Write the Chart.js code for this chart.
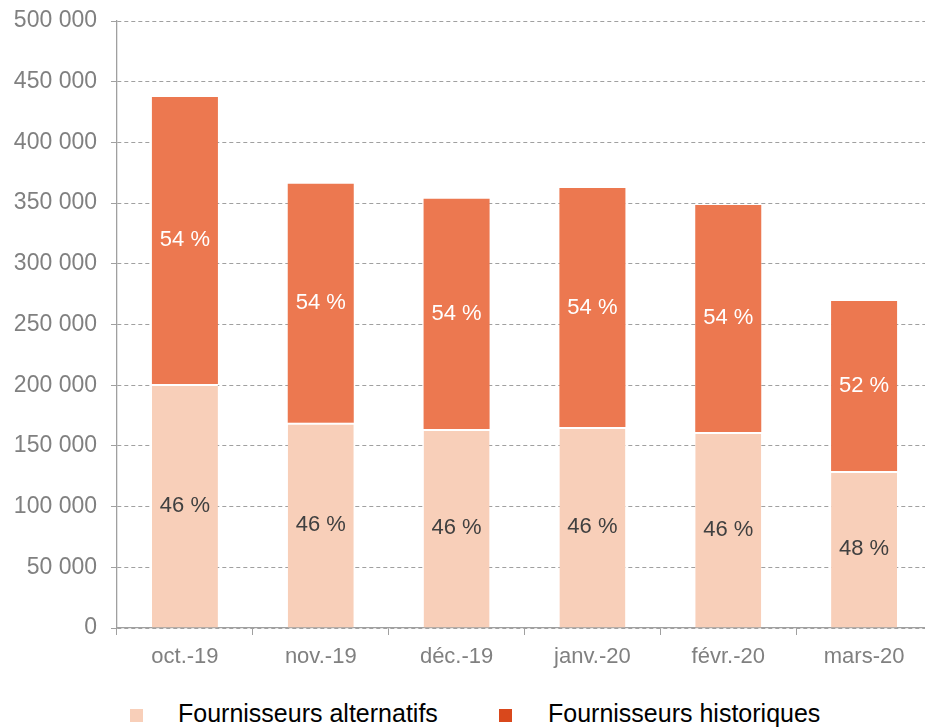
<!DOCTYPE html>
<html>
<head>
<meta charset="utf-8">
<script src="https://cdn.jsdelivr.net/npm/chart.js@4"></script>
<style>
    html, body { margin: 0; padding: 0; background: #fff; overflow: hidden; }
    #wrap { position: relative; width: 932px; height: 690px; }
    .legend { position: absolute; top: 698px; font-family: "Liberation Sans", Arial, sans-serif; font-size: 25px; color: #000; line-height: 30px; }
    .legend .box { position: absolute; width: 13px; height: 13px; top: 11px; }
    .legend .txt { position: absolute; white-space: nowrap; top: 0; }
</style>
</head>
<body>
<div id="wrap"><canvas id="chart"></canvas></div>
<div class="legend" id="legAlt" style="left:130px;"><span class="box" style="left:0;background:#F8CFB9;"></span><span class="txt" style="left:48px;">Fournisseurs alternatifs</span></div>
<div class="legend" id="legHist" style="left:499px;"><span class="box" style="left:0;background:#D9481C;"></span><span class="txt" style="left:49px;">Fournisseurs historiques</span></div>
<script>
// catégories (mois)
const months = ['oct.-19', 'nov.-19', 'déc.-19', 'janv.-20', 'févr.-20', 'mars-20'];

// valeurs
const alternatifs = [201000, 169000, 164000, 165500, 161500, 129300];
const historiques = [236500, 197000, 189500, 197000, 187000, 140000];

// pourcentages affichés dans les barres
const pctAlternatifs = [46, 46, 46, 46, 46, 48];
const pctHistoriques = [54, 54, 54, 54, 54, 52];

const FONT = '"Liberation Sans", Arial, sans-serif';

// étiquettes de pourcentage au centre de chaque segment
const pctLabels = {
    id: 'pctLabels',
    afterDatasetsDraw(chart) {
        const ctx = chart.ctx;
        const sets = [
            { pct: pctAlternatifs, color: '#404040' },
            { pct: pctHistoriques, color: '#ffffff' }
        ];
        ctx.save();
        ctx.font = '22px ' + FONT;
        ctx.textAlign = 'center';
        ctx.textBaseline = 'middle';
        sets.forEach((s, di) => {
            chart.getDatasetMeta(di).data.forEach((bar, i) => {
                const { x, y, base } = bar.getProps(['x', 'y', 'base'], true);
                ctx.fillStyle = s.color;
                ctx.fillText(s.pct[i] + ' %', x, (y + base) / 2);
            });
        });
        ctx.restore();
    }
};

const ctx = document.getElementById('chart').getContext('2d');
const chart = new Chart(ctx, {
    type: 'bar',
    data: {
        labels: months,
        datasets: [{
            label: 'Fournisseurs alternatifs',
            data: alternatifs,
            backgroundColor: '#F8CFB9',
            borderColor: '#ffffff',
            borderWidth: { top: 2, right: 0, bottom: 0, left: 0 },
            borderSkipped: false,
            barPercentage: 0.486,
            categoryPercentage: 1
        }, {
            label: 'Fournisseurs historiques',
            data: historiques,
            backgroundColor: '#EC7850',
            borderWidth: 0,
            barPercentage: 0.486,
            categoryPercentage: 1
        }]
    },
    options: {
        responsive: true,
        maintainAspectRatio: false,
        animation: false,
        layout: { padding: { top: 21, left: 0, right: 0, bottom: 0 } },
        plugins: {
            legend: { display: false },
            tooltip: { enabled: false }
        },
        scales: {
            x: {
                stacked: true,
                afterFit(scale) { scale.height = 62; },
                grid: {
                    display: true,
                    drawOnChartArea: false,
                    tickLength: 7,
                    color: '#A0A0A0'
                },
                border: { display: true, color: '#A0A0A0', width: 1.3 },
                ticks: {
                    color: '#808080',
                    padding: 9,
                    font: { family: FONT, size: 22 },
                    maxRotation: 0
                }
            },
            y: {
                stacked: true,
                min: 0,
                max: 500000,
                afterFit(scale) {
                    scale.width = 117;
                    scale.paddingTop = 0;
                    scale.paddingBottom = 0;
                },
                grid: {
                    color: '#A0A0A0',
                    tickLength: 6,
                    tickBorderDash: []
                },
                border: { display: true, color: '#A0A0A0', width: 1.3, dash: [4, 3] },
                ticks: {
                    stepSize: 50000,
                    color: '#808080',
                    padding: 14,
                    font: { family: FONT, size: 23 },
                    callback: v => v.toString().replace(/\B(?=(\d{3})+(?!\d))/g, ' ')
                }
            }
        }
    },
    plugins: [pctLabels]
});
</script>
</body>
</html>
